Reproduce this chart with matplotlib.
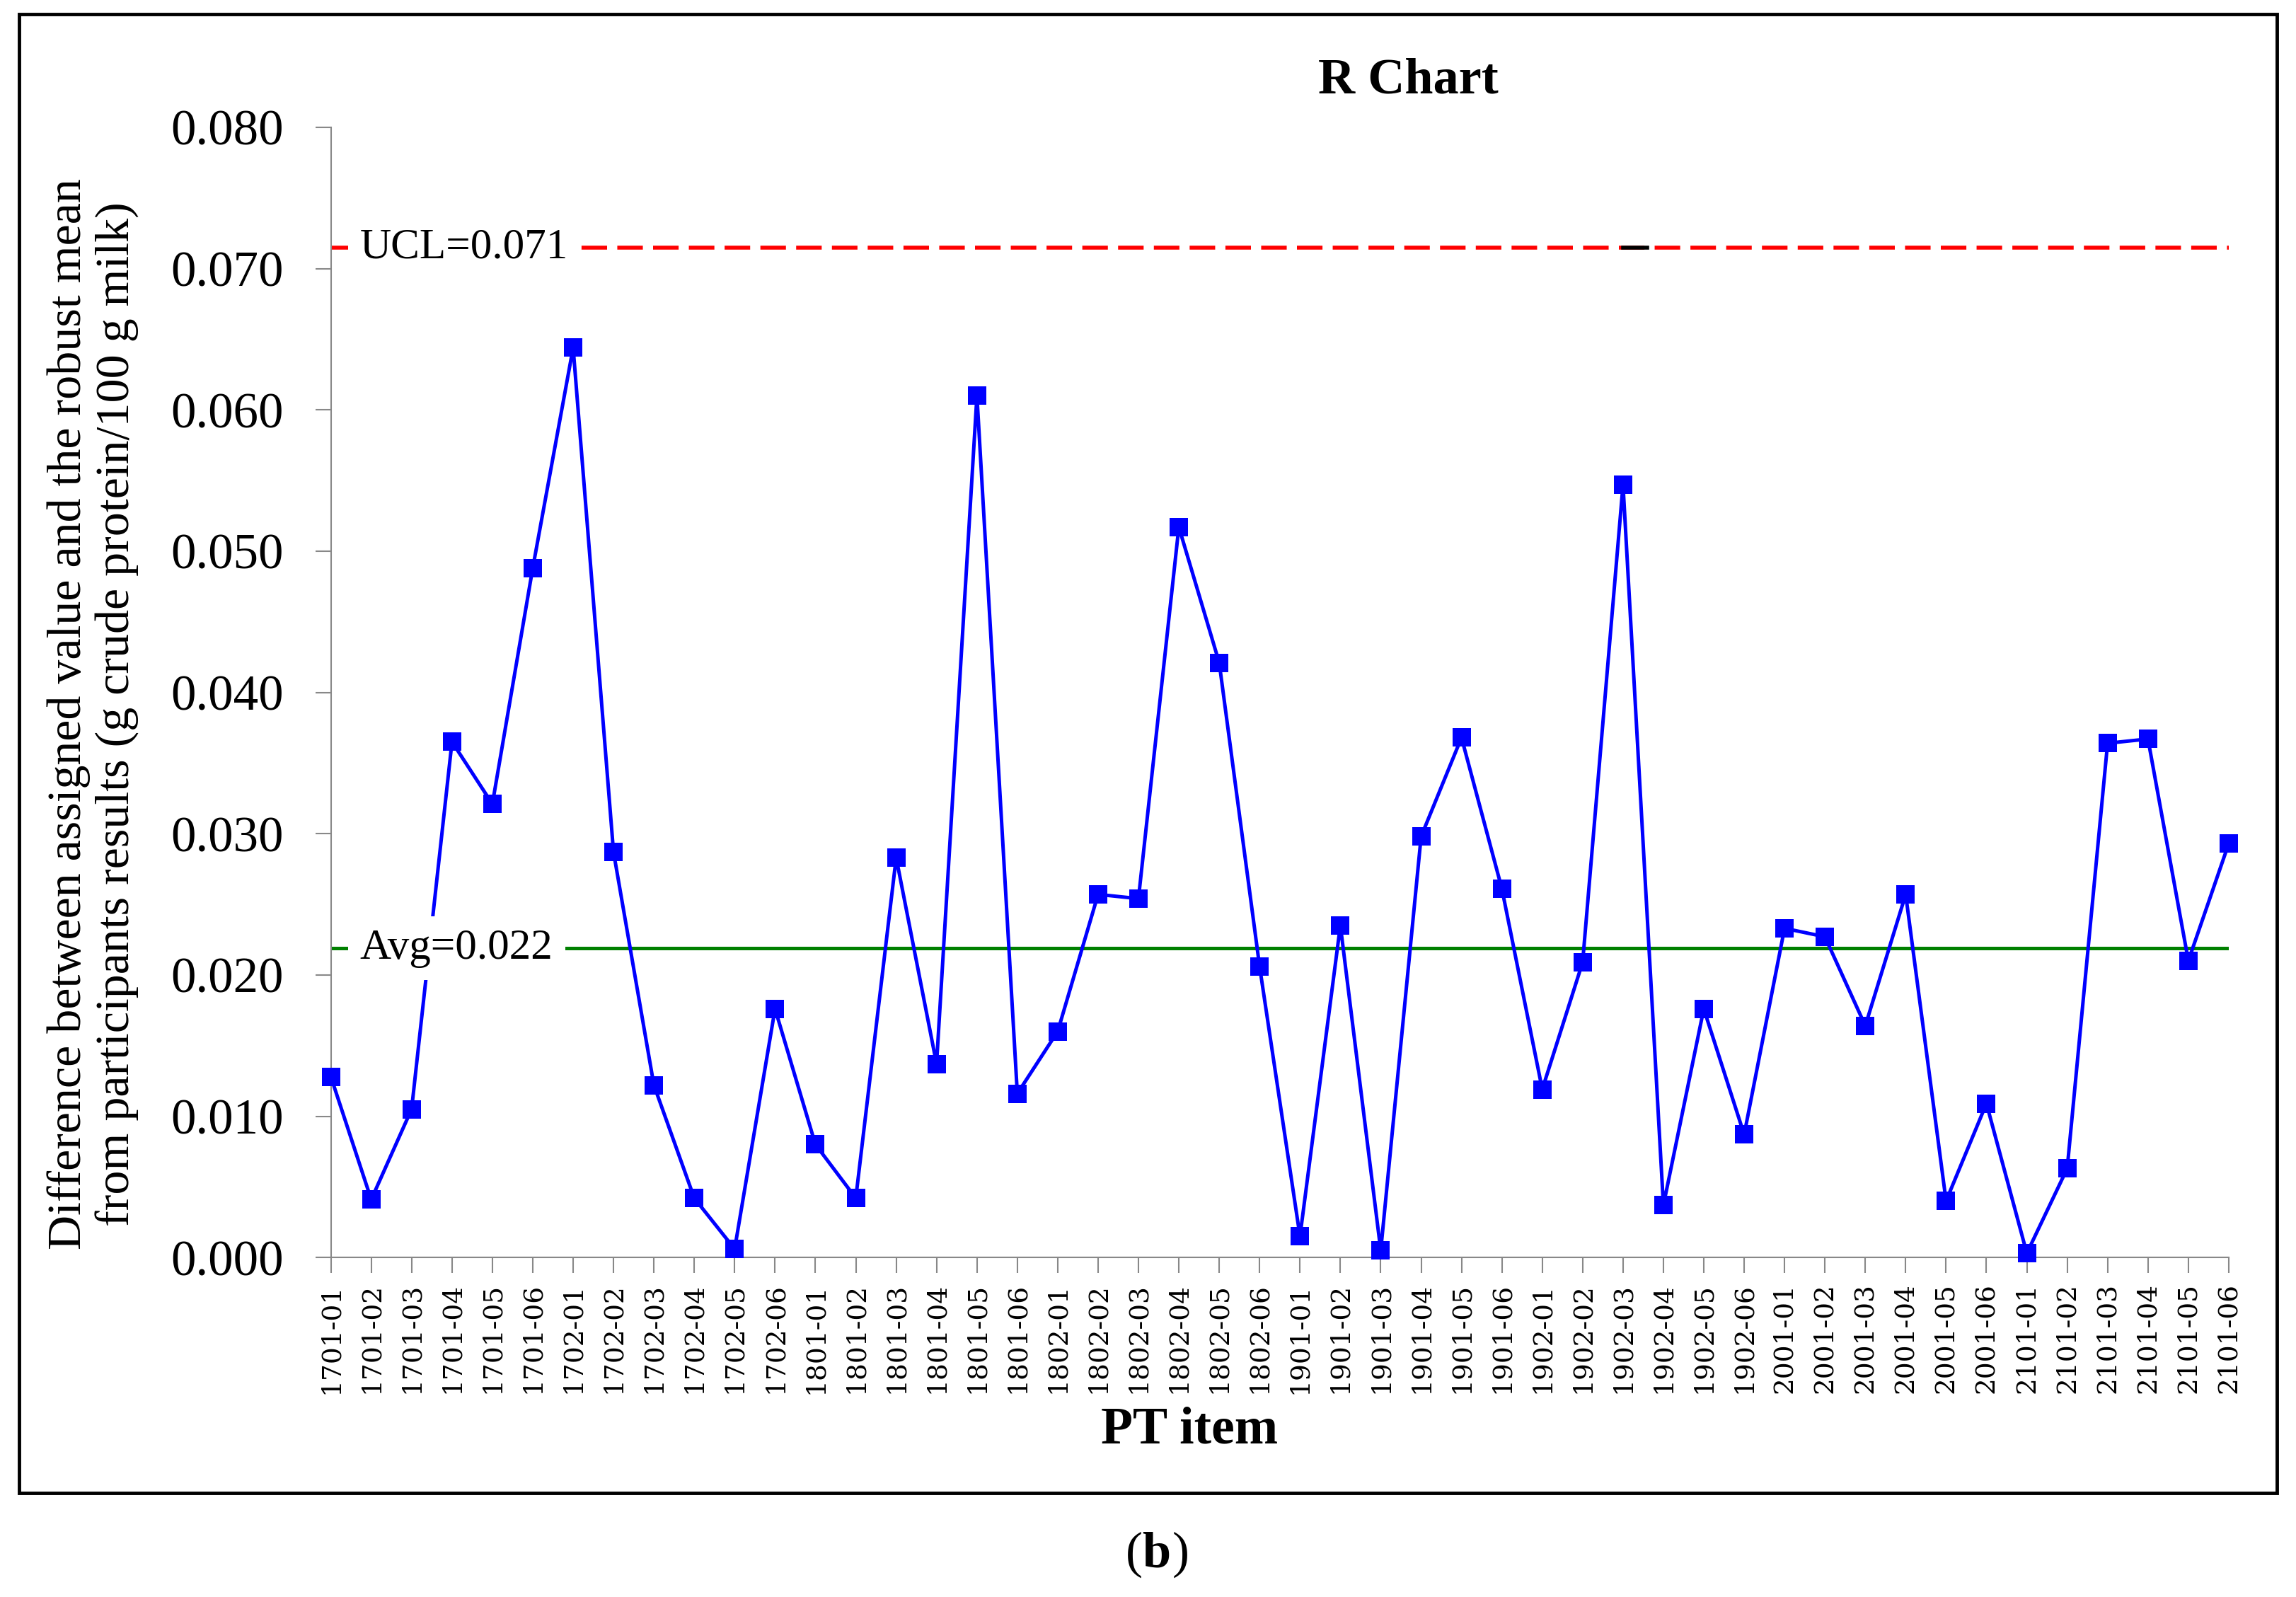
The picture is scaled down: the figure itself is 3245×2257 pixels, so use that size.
import numpy as np
import matplotlib.pyplot as plt
from matplotlib.patches import Rectangle

# PT items and R values (g crude protein/100 g milk)
rounds = ['1701', '1702', '1801', '1802', '1901', '1902', '2001', '2101']
items = [r + '-0' + str(k) for r in rounds for k in range(1, 7)]
r_values = [0.0128, 0.0041, 0.0105, 0.0365, 0.0321, 0.0488,
            0.0644, 0.0287, 0.0122, 0.0042, 0.0006, 0.0176,
            0.0080, 0.0042, 0.0283, 0.0137, 0.0610, 0.0116,
            0.0160, 0.0257, 0.0254, 0.0517, 0.0421, 0.0206,
            0.0015, 0.0235, 0.0005, 0.0298, 0.0368, 0.0261,
            0.0119, 0.0209, 0.0547, 0.0037, 0.0176, 0.0087,
            0.0233, 0.0227, 0.0164, 0.0257, 0.0040, 0.0109,
            0.0003, 0.0063, 0.0364, 0.0367, 0.0210, 0.0293]
ucl = 0.0715
avg = 0.0219
ucl_label = 'UCL=0.071'
avg_label = 'Avg=0.022'

serif = ['Liberation Serif', 'DejaVu Serif']
plt.rcParams['font.family'] = serif

fig = plt.figure(figsize=(32.45, 22.57), dpi=100)
ax = fig.add_axes([0.1441, 0.2126, 0.8266, 0.7077])

x = np.arange(len(items))
ax.axhline(ucl, color='#ff0000', lw=4, ls=(0, (6.5, 2.6)), zorder=2)
ax.plot([32, 32.6], [ucl, ucl], color='black', lw=4, zorder=2)
ax.axhline(avg, color='#008000', lw=3.6, zorder=2)
ax.plot(x, r_values, color='#0000ff', lw=3.6, marker='s', markersize=19,
        markeredgewidth=0, zorder=3, clip_on=False)

box = dict(boxstyle='square,pad=0.28', facecolor='white', edgecolor='none')
ax.text(0.72, ucl, ucl_label, fontsize=44, va='center', ha='left', bbox=box, zorder=5)
ax.text(0.72, avg, avg_label, fontsize=44, va='center', ha='left', bbox=box, zorder=5)

ax.set_xlim(0, len(items) - 1)
ax.set_ylim(0, 0.080)
ax.set_yticks(np.arange(0, 0.0801, 0.010))
ax.set_yticklabels(['%.3f' % v for v in np.arange(0, 0.0801, 0.010)], fontsize=51)
ax.set_xticks(x)
ax.set_xticklabels(items, rotation=90, fontsize=27, family=['DejaVu Serif'])
ax.tick_params(axis='y', length=16, width=1.5, color='#888888', pad=32)
ax.tick_params(axis='x', length=16, width=1.5, color='#888888', pad=10)
for side in ['top', 'right']:
    ax.spines[side].set_visible(False)
for side in ['left', 'bottom']:
    ax.spines[side].set_color('#888888')
    ax.spines[side].set_linewidth(1.5)

fig.text(0.6135, 0.9496, 'R Chart', fontsize=52, fontweight='bold', ha='center', va='center')
fig.text(0.518, 0.1045, 'PT item', fontsize=53, fontweight='bold', ha='center', va='center')
fig.text(0.0405, 0.5527,
         'Difference between assigned value and the robust mean\n'
         'from participants results (g crude protein/100 g milk)',
         fontsize=49, rotation=90, ha='center', va='center', multialignment='center',
         linespacing=1.15)
fig.text(0.4975, 0.0266, '(', fontsize=52, ha='right', va='center')
fig.text(0.4975, 0.0266, 'b', fontsize=52, fontweight='bold', ha='left', va='center')
fig.text(0.5105, 0.0266, ')', fontsize=52, ha='left', va='center')

fig.add_artist(Rectangle((0.0083, 0.065), 0.9834, 0.926, transform=fig.transFigure,
                         fill=False, edgecolor='black', lw=3.5))

fig.savefig('out.png', dpi=100)
